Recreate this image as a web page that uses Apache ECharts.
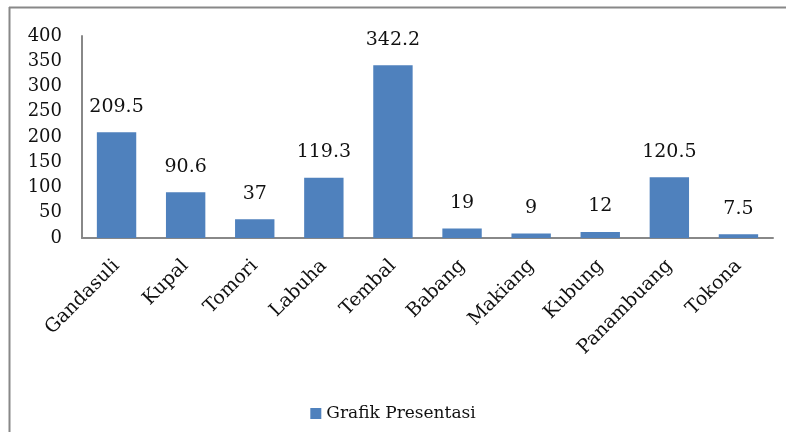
<!DOCTYPE html>
<html><head><meta charset="utf-8">
<script src="https://cdn.jsdelivr.net/npm/echarts@6/dist/echarts.min.js"></script>
<style>html,body{margin:0;padding:0;background:#fff}#c{width:786px;height:432px}</style>
</head><body><div id="c"></div>
<script>
const categories = ["Gandasuli","Kupal","Tomori","Labuha","Tembal","Babang","Makiang","Kubung","Panambuang","Tokona"];
const values = [209.5, 90.6, 37, 119.3, 342.2, 19, 9, 12, 120.5, 7.5];
const seriesName = "Grafik Presentasi";
const FONT = "DejaVu Serif";
const chart = echarts.init(document.getElementById('c'), null, {renderer:'canvas'});
chart.setOption({
  animation:false,
  textStyle:{fontFamily:FONT},
  graphic:[
    {type:'line', shape:{x1:9,y1:7.5,x2:786,y2:7.5}, style:{stroke:'#888',lineWidth:2}},
    {type:'line', shape:{x1:9.5,y1:7,x2:9.5,y2:432}, style:{stroke:'#888',lineWidth:2}}
  ],
  grid:{left:82, right:13, top:36, bottom:194},
  xAxis:{type:'category', data:categories,
    axisLine:{lineStyle:{color:'#888',width:2}}, axisTick:{show:false},
    axisLabel:{rotate:45, fontSize:19, color:'#111', fontFamily:FONT, margin:25, interval:0}},
  yAxis:{type:'value', min:0, max:400, interval:50,
    axisLine:{show:true, lineStyle:{color:'#888',width:2}}, axisTick:{show:false},
    splitLine:{show:false},
    axisLabel:{fontSize:18, color:'#111', fontFamily:FONT, margin:20}},
  legend:{bottom:5, left:'center', itemWidth:11, itemHeight:11, itemGap:6,
    textStyle:{fontSize:17, color:'#111', fontFamily:FONT}, icon:'rect'},
  series:[{name:seriesName, type:'bar', data:values, barCategoryGap:'43%',
    itemStyle:{color:'#4F81BD'},
    label:{show:true, position:'top', distance:16, fontSize:19, color:'#111', fontFamily:FONT}}]
});
</script></body></html>
